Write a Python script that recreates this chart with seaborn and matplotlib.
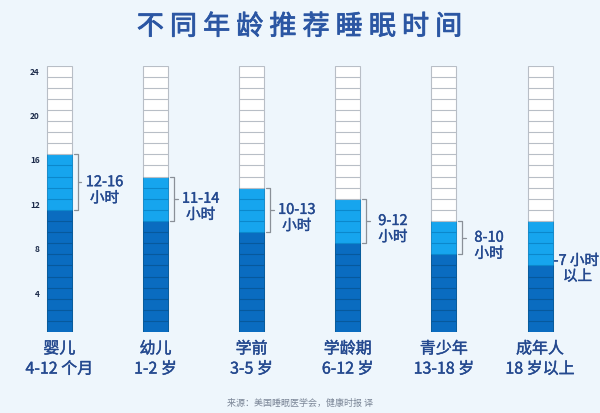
import seaborn as sns
import matplotlib.pyplot as plt
import matplotlib.patheffects as pe

# 数据
groups = ['婴儿\n4-12 个月', '幼儿\n1-2 岁', '学前\n3-5 岁', '学龄期\n6-12 岁', '青少年\n13-18 岁', '成年人\n18 岁以上']
dark_top = [11, 10, 9, 8, 7, 6]
light_top = [16, 14, 13, 12, 10, 10]
range_labels = ['12-16', '11-14', '10-13', '9-12', '8-10', '7']
total_hours = [24] * 6
ytick_labels = ['4', '8', '12', '16', '20', '24']

sns.set_style('white')
plt.rcParams['font.family'] = ['Noto Sans CJK SC', 'DejaVu Sans']

navy = '#24498f'
dark_blue = '#0a6cc0'
light_blue = '#16a5ee'
bg = '#eef6fc'
# 近似中等粗细
medium = [pe.withStroke(linewidth=0.3, foreground=navy)]

fig = plt.figure(figsize=(6, 4.13), dpi=100, facecolor=bg)
ax = fig.add_axes([44 / 600, 81 / 413, 546 / 600, 266.4 / 413])
ax.set_facecolor('none')

w = 0.26
sns.barplot(x=groups, y=total_hours, color='white', edgecolor='#b8bec6', linewidth=0.8,
            width=w, saturation=1, ax=ax)
sns.barplot(x=groups, y=light_top, color=light_blue, edgecolor='#0d86c8', linewidth=0.6,
            width=w, saturation=1, ax=ax)
sns.barplot(x=groups, y=dark_top, color=dark_blue, edgecolor='#085796', linewidth=0.6,
            width=w, saturation=1, ax=ax)

# 每小时一格
for i in range(len(groups)):
    for h in range(1, 24):
        if h < dark_top[i]:
            c = '#07599c'
        elif h < light_top[i]:
            c = '#0b88cc'
        else:
            c = '#b8bec6'
        ax.hlines(h, i - w / 2, i + w / 2, color=c, linewidth=0.8)

# 括号和标注
for i in range(len(groups)):
    lo, hi = dark_top[i], light_top[i]
    if i < 5:
        bx = i + 0.19
        ax.plot([bx - 0.04, bx, bx, bx - 0.04], [hi, hi, lo, lo], color='#8a9098', lw=0.9, clip_on=False)
        mid = (lo + hi) / 2
        ax.plot([bx, bx + 0.04], [mid, mid], color='#8a9098', lw=0.9, clip_on=False)
        ax.text(i + 0.47, mid, range_labels[i], ha='center', va='center', fontsize=10.5,
                color=navy, clip_on=False, path_effects=medium)
        ax.text(i + 0.47, mid - 1.45, '小时', ha='center', va='center', fontsize=10.5,
                color=navy, clip_on=False, path_effects=medium)
    else:
        ax.text(i + 0.14, 6.4, '-' + range_labels[i] + ' 小时', ha='left', va='center', fontsize=10.5,
                color=navy, clip_on=False, path_effects=medium)
        ax.text(i + 0.39, 5.0, '以上', ha='center', va='center', fontsize=10.5,
                color=navy, clip_on=False, path_effects=medium)

ax.set_xlim(-0.16, 5.52)
ax.set_ylim(0, 24)
ax.set_yticks([3.5, 7.5, 11.5, 15.5, 19.5, 23.5])
ax.set_yticklabels(ytick_labels, fontsize=6, fontweight='bold', color='#1c2b4a')
ax.tick_params(axis='y', length=0, pad=3)
ax.tick_params(axis='x', length=0, pad=6, labelsize=11.5, labelcolor=navy)
for lab in ax.get_xticklabels():
    lab.set_linespacing(1.25)
    lab.set_path_effects(medium)
ax.set_xlabel('')
ax.set_ylabel('')
sns.despine(left=True, bottom=True)

fig.text(0.5, 1 - 27 / 413, ' '.join('不同年龄推荐睡眠时间'), ha='center', va='center',
         fontsize=19.5, color='#2b56a3',
         path_effects=[pe.withStroke(linewidth=0.6, foreground='#2b56a3')])
fig.text(0.5, 1 - 403 / 413, '来源：美国睡眠医学会，健康时报 译', ha='center', va='center',
         fontsize=6.5, color='#7a8596')

fig.savefig('out.png', dpi=100, facecolor=bg)
